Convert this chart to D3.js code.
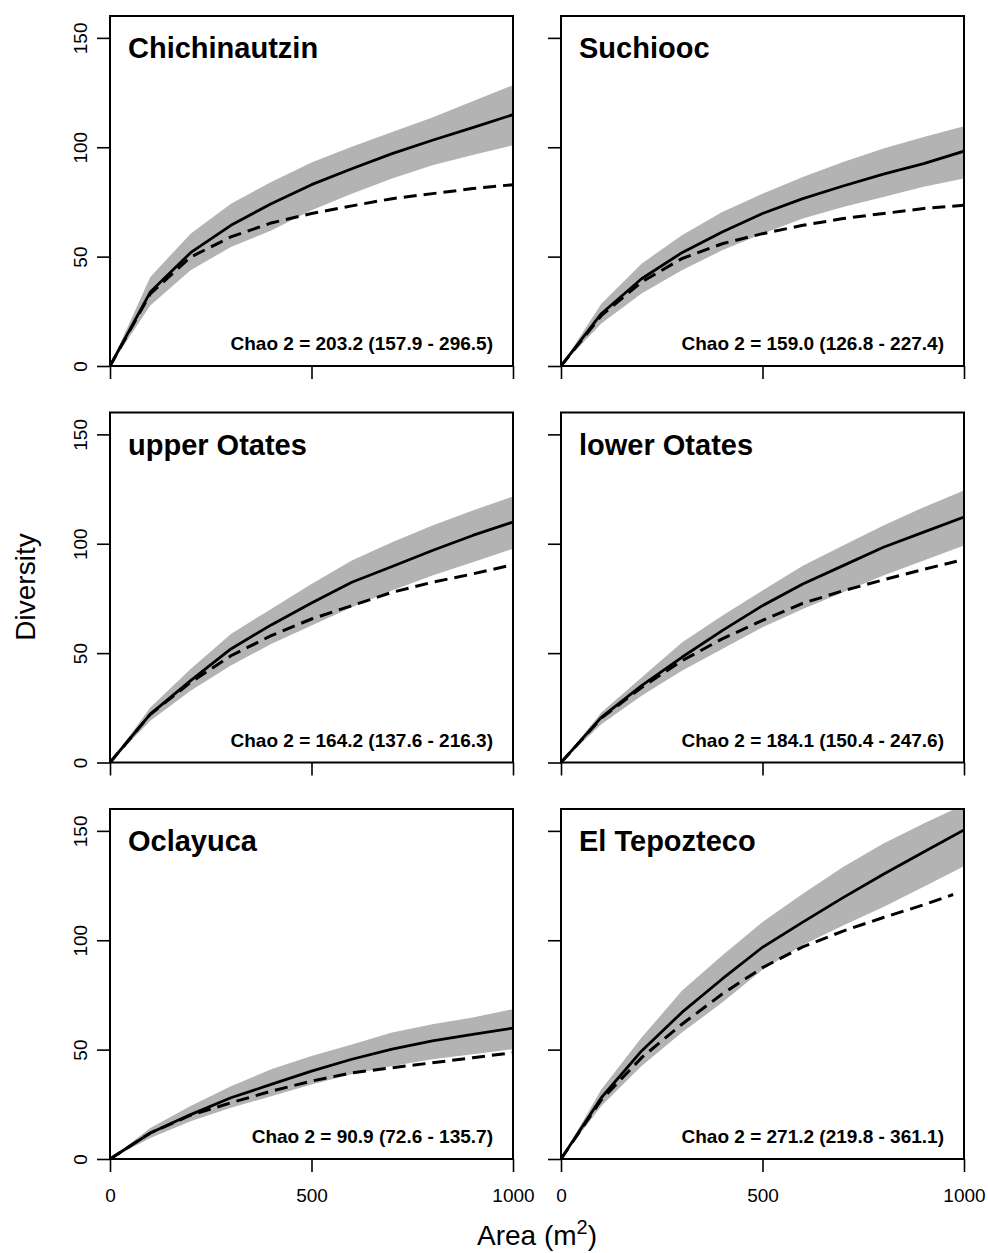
<!DOCTYPE html>
<html>
<head>
<meta charset="utf-8">
<script src="https://cdn.jsdelivr.net/npm/d3@7"></script>
<style>
  html, body { margin: 0; padding: 0; background: #fff; }
  svg { display: block; }
  text { font-family: "Liberation Sans", Arial, Helvetica, sans-serif; fill: #000; }
</style>
</head>
<body>
<svg id="chart" width="988" height="1253"></svg>
<script>
// ---------------- data ----------------
const areas = [0, 100, 200, 300, 400, 500, 600, 700, 800, 900, 1000];
const sites = ["Chichinautzin", "Suchiooc", "upper Otates", "lower Otates", "Oclayuca", "El Tepozteco"];
const chaoLabels = [
  "Chao 2 = 203.2 (157.9 - 296.5)",
  "Chao 2 = 159.0 (126.8 - 227.4)",
  "Chao 2 = 164.2 (137.6 - 216.3)",
  "Chao 2 = 184.1 (150.4 - 247.6)",
  "Chao 2 = 90.9 (72.6 - 135.7)",
  "Chao 2 = 271.2 (219.8 - 361.1)"
];
// estimated (rarefied/extrapolated) richness, solid line
const estimated = [
  [0, 33.8, 51.8, 64.3, 74.2, 82.9, 90.2, 97.1, 103.2, 109.0, 114.9],
  [0, 23.9, 39.9, 51.8, 61.3, 69.7, 76.5, 82.3, 87.7, 92.5, 98.2],
  [0, 22.1, 37.4, 51.9, 62.9, 72.9, 82.4, 89.6, 96.9, 103.8, 109.9],
  [0, 20.6, 35.1, 48.1, 60.3, 71.7, 81.6, 90.0, 98.4, 105.3, 112.2],
  [0, 11.9, 20.3, 28.0, 34.1, 40.2, 45.6, 50.2, 54.0, 57.0, 59.8],
  [0, 28.0, 49.4, 67.0, 82.3, 96.8, 108.3, 119.5, 130.2, 140.3, 150.4]
];
// 95% interval, grey band
const upper95 = [
  [0, 40.7, 60.5, 74.2, 84.1, 93.0, 100.2, 107.0, 113.6, 121.0, 128.4],
  [0, 28.5, 46.8, 59.8, 70.4, 78.8, 86.4, 93.3, 99.4, 104.7, 109.6],
  [0, 25.2, 42.7, 58.8, 70.2, 81.6, 92.3, 100.7, 108.3, 115.2, 121.6],
  [0, 22.9, 38.9, 54.9, 67.1, 78.6, 90.0, 99.2, 108.3, 116.7, 124.4],
  [0, 14.2, 24.2, 33.3, 41.0, 47.1, 52.4, 57.8, 61.6, 64.7, 68.5],
  [0, 31.8, 55.5, 76.9, 93.0, 108.3, 121.3, 133.5, 144.2, 153.4, 162.0]
];
const lower95 = [
  [0, 27.7, 43.8, 54.4, 62.0, 71.2, 78.8, 85.7, 91.8, 96.5, 100.9],
  [0, 19.4, 33.1, 43.8, 52.9, 60.5, 67.4, 72.7, 77.3, 81.9, 85.7],
  [0, 19.1, 32.8, 44.3, 54.2, 62.6, 71.0, 78.6, 85.5, 91.6, 97.7],
  [0, 17.5, 30.5, 42.0, 51.9, 61.8, 70.2, 77.8, 85.5, 92.3, 99.2],
  [0, 9.6, 17.3, 23.4, 28.7, 34.1, 38.7, 42.5, 45.6, 47.9, 50.2],
  [0, 24.2, 42.5, 57.8, 71.5, 86.5, 97.8, 106.7, 115.2, 124.5, 133.8]
];
// observed richness, dashed line (last point at the largest sampled area)
const observed = [
  [0, 33.0, 49.8, 59.0, 65.4, 69.7, 73.2, 76.5, 78.8, 81.1, 82.9],
  [0, 23.0, 38.4, 49.1, 55.9, 60.5, 64.3, 67.4, 69.7, 72.0, 73.5],
  [0, 22.0, 36.6, 48.8, 58.0, 65.6, 71.7, 77.8, 82.4, 86.2, 90.0],
  [0, 20.3, 34.3, 46.5, 56.5, 65.0, 72.8, 78.5, 83.5, 88.3, 92.0],
  [0, 11.9, 20.0, 25.7, 31.0, 35.6, 39.4, 41.7, 44.0, 46.3, 48.6],
  [0, 27.0, 46.3, 61.6, 75.4, 87.5, 97.0, 104.2, 110.4, 116.2, 120.9]
];
const observedMaxArea = [1000, 1000, 990, 982, 1000, 973];
const xTicks = [0, 500, 1000];
const yTicks = [0, 50, 100, 150];
const xDomain = [0, 1000];
const yDomain = [0, 160];

// ---------------- layout ----------------
const colLeft = [110, 561];
const rowTop = [16, 412.5, 809];
const pw = 403, ph = 350;

const svg = d3.select("#chart");
const defs = svg.append("defs");

sites.forEach((site, i) => {
  const col = i % 2, row = Math.floor(i / 2);
  const x = d3.scaleLinear().domain(xDomain).range([0, pw]);
  const y = d3.scaleLinear().domain(yDomain).range([ph, 0]);
  const g = svg.append("g").attr("transform", `translate(${colLeft[col]},${rowTop[row]})`);

  defs.append("clipPath").attr("id", "clip" + i)
    .append("rect").attr("width", pw).attr("height", ph);

  const plot = g.append("g").attr("clip-path", `url(#clip${i})`);

  const band = areas.map((a, k) => ({ a, lo: lower95[i][k], hi: upper95[i][k] }));
  plot.append("path")
    .datum(band)
    .attr("fill", "#b3b3b3")
    .attr("d", d3.area().x(d => x(d.a)).y0(d => y(d.lo)).y1(d => y(d.hi)));

  const obsPts = areas.map((a, k) => ({ a: k === areas.length - 1 ? observedMaxArea[i] : a, v: observed[i][k] }));
  plot.append("path")
    .datum(obsPts)
    .attr("fill", "none").attr("stroke", "#000")
    .attr("stroke-width", 3).attr("stroke-dasharray", "13,7")
    .attr("d", d3.line().x(d => x(d.a)).y(d => y(d.v)));

  const estPts = areas.map((a, k) => ({ a, v: estimated[i][k] }));
  plot.append("path")
    .datum(estPts)
    .attr("fill", "none").attr("stroke", "#000")
    .attr("stroke-width", 2.8).attr("stroke-linejoin", "round")
    .attr("d", d3.line().x(d => x(d.a)).y(d => y(d.v)));

  // box
  g.append("rect").attr("width", pw).attr("height", ph)
    .attr("fill", "none").attr("stroke", "#000").attr("stroke-width", 2);

  // y axis
  const yAxis = g.append("g").call(
    d3.axisLeft(y).tickValues(yTicks).tickSize(13).tickFormat(col === 0 ? d3.format("d") : () => "")
  );
  yAxis.select(".domain").remove();
  yAxis.selectAll(".tick line").attr("stroke", "#000").attr("stroke-width", 1.6);
  yAxis.selectAll(".tick text")
    .attr("x", null).attr("dy", null)
    .attr("transform", "translate(-23,0) rotate(-90)")
    .attr("text-anchor", "middle")
    .style("font-size", "19px").style("font-family", "'Liberation Sans', Arial, sans-serif")
    .attr("fill", "#000");

  // x axis
  const xAxis = g.append("g").attr("transform", `translate(0,${ph})`).call(
    d3.axisBottom(x).tickValues(xTicks).tickSize(13).tickFormat(row === 2 ? d3.format("d") : () => "")
  );
  xAxis.select(".domain").remove();
  xAxis.selectAll(".tick line").attr("stroke", "#000").attr("stroke-width", 1.6);
  xAxis.selectAll(".tick text")
    .attr("y", 43).attr("dy", null)
    .style("font-size", "19px").style("font-family", "'Liberation Sans', Arial, sans-serif")
    .attr("fill", "#000");

  // titles
  g.append("text").attr("x", 18).attr("y", 42)
    .style("font-size", "29px").style("font-weight", "bold")
    .text(site);
  g.append("text").attr("x", pw - 20).attr("y", 334)
    .attr("text-anchor", "end")
    .style("font-size", "19px").style("font-weight", "bold")
    .text(chaoLabels[i]);
});

// axis titles
const xt = svg.append("text").attr("x", 537).attr("y", 1245).attr("text-anchor", "middle")
  .style("font-size", "28px");
xt.append("tspan").text("Area (m");
xt.append("tspan").attr("dy", -11).style("font-size", "20px").text("2");
xt.append("tspan").attr("dy", 11).text(")");

svg.append("text")
  .attr("transform", "translate(35,587) rotate(-90)")
  .attr("text-anchor", "middle")
  .style("font-size", "28px")
  .text("Diversity");
</script>
</body>
</html>
